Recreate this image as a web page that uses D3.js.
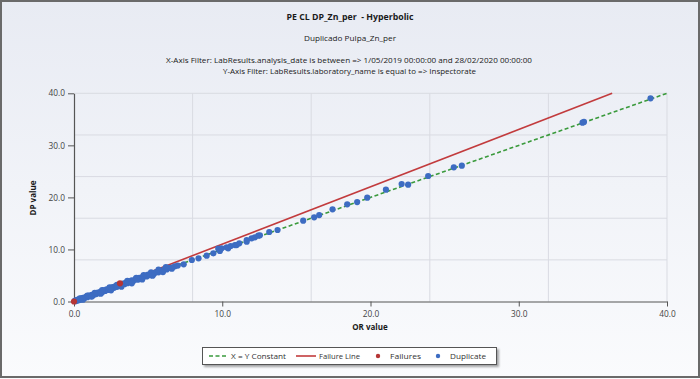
<!DOCTYPE html>
<html><head><meta charset="utf-8">
<script src="https://cdn.jsdelivr.net/npm/d3@7"></script>
<style>
html,body{margin:0;padding:0;background:#fff;}
svg{display:block;font-family:"Open Sans","Noto Sans",sans-serif;}
text{white-space:pre;}
</style></head>
<body>
<script>
// ---- data ----
const title = "PE CL DP_Zn_per  - Hyperbolic";
const subtitle = "Duplicado Pulpa_Zn_per";
const filterX = "X-Axis Filter: LabResults.analysis_date is between => 1/05/2019 00:00:00 and 28/02/2020 00:00:00";
const filterY = "Y-Axis Filter: LabResults.laboratory_name is equal to => Inspectorate";
const xTicks = [0, 10, 20, 30, 40];
const yTicks = [0, 10, 20, 30, 40];
const gridVals = [8, 16, 24, 32, 40];
const constLineX = [0, 40];
const constLineY = [0, 40];
const failLineX = [0, 36.3];
const failLineY = [0, 40];
const dupX = [0.05,0.1,0.15,0.2,0.3,0.35,0.45,0.5,0.6,0.7,0.8,0.9,1.0,1.1,1.2,1.3,1.4,1.5,1.6,1.7,1.8,1.9,2.0,2.1,2.2,2.3,2.4,2.5,2.6,2.7,2.8,2.9,3.0,3.15,3.3,3.4,3.5,3.6,3.7,3.8,3.9,4.0,4.15,4.3,4.4,4.5,4.65,4.8,4.9,5.0,5.15,5.3,5.4,5.55,5.7,5.8,5.95,6.1,6.25,6.4,6.6,6.8,7.0,7.4,7.95,8.4,8.95,9.4,9.73,9.84,9.96,10.3,10.4,10.57,10.86,10.97,11.15,11.65,11.65,11.98,12.2,12.43,12.54,13.17,13.73,15.46,16.2,16.54,17.44,18.43,19.1,19.78,21.04,22.1,22.54,23.89,25.62,26.16,34.3,34.4,38.89,
  0.4,0.9,1.4,1.9,2.4,2.9,3.6,4.2,4.7,5.2,5.7,6.2,0.6,1.2,1.8,2.5,3.2,3.9,4.6,5.3,6.0,6.6];
const dupY = [0.12,0.05,0.25,0.15,0.4,0.28,0.55,0.42,0.7,0.62,0.9,0.82,1.12,1.02,1.3,1.22,1.5,1.42,1.7,1.62,1.92,1.78,2.12,2.02,2.35,2.22,2.55,2.45,2.75,2.62,2.95,2.82,3.18,3.1,3.45,3.32,3.65,3.52,3.85,3.72,4.05,3.92,4.32,4.2,4.55,4.42,4.8,4.98,4.82,5.18,5.05,5.45,5.32,5.65,5.6,5.92,5.85,6.2,6.15,6.45,6.5,6.75,6.9,7.15,7.97,8.3,8.8,9.26,10.14,9.7,10.22,10.41,10.22,10.66,10.85,10.85,11.18,11.8,11.49,12.14,12.33,12.64,12.72,13.35,13.74,15.53,16.17,16.6,17.7,18.67,19.1,19.94,21.48,22.57,22.44,24.11,25.78,26.09,34.35,34.5,39.04,
  0.62,1.15,1.68,2.2,2.72,3.22,3.95,4.55,5.08,5.6,6.12,6.6,0.35,0.95,1.5,2.15,2.85,3.5,4.25,4.95,5.65,6.3];
const failX = [0.0, 3.1];
const failY = [0.0, 3.5];
const legendLabels = ["X = Y Constant", "Failure Line", "Failures", "Duplicate"];

const W = 700, H = 379;
const green = "#3a9a3c", red = "#c23b3d", blue = "#3d6cc2", redDot = "#b53535";

const svg = d3.select("body").append("svg").attr("width", W).attr("height", H);
const defs = svg.append("defs");
const grad = defs.append("linearGradient").attr("id","bg").attr("x1",0).attr("y1",0).attr("x2",0).attr("y2",1);
grad.append("stop").attr("offset","0%").attr("stop-color","#e8ebf3");
grad.append("stop").attr("offset","100%").attr("stop-color","#fafbfd");
const sh = defs.append("filter").attr("id","shadow").attr("x","-10%").attr("y","-30%").attr("width","130%").attr("height","180%");
sh.append("feDropShadow").attr("dx",2).attr("dy",2).attr("stdDeviation",1).attr("flood-color","#000").attr("flood-opacity",0.35);

svg.append("rect").attr("x",0).attr("y",0).attr("width",W).attr("height",H).attr("fill","url(#bg)");
svg.append("rect").attr("x",1).attr("y",1).attr("width",W-2).attr("height",H-3)
  .attr("fill","none").attr("stroke","#6a6a6a").attr("stroke-width",2);

// titles
const tcol = "#1a1a1a";
svg.append("text").attr("x",350).attr("y",20).attr("text-anchor","middle")
  .attr("font-size",8.5).attr("font-weight","bold").attr("fill",tcol)
  .attr("textLength",127).attr("lengthAdjust","spacingAndGlyphs").text(title);
svg.append("text").attr("x",350).attr("y",41).attr("text-anchor","middle")
  .attr("font-size",8).attr("fill",tcol)
  .attr("textLength",92).attr("lengthAdjust","spacingAndGlyphs").text(subtitle);
svg.append("text").attr("x",349).attr("y",63).attr("text-anchor","middle")
  .attr("font-size",8).attr("fill",tcol)
  .attr("textLength",366).attr("lengthAdjust","spacingAndGlyphs").text(filterX);
svg.append("text").attr("x",349.5).attr("y",74).attr("text-anchor","middle")
  .attr("font-size",8).attr("fill",tcol)
  .attr("textLength",253).attr("lengthAdjust","spacingAndGlyphs").text(filterY);

// scales
const x = d3.scaleLinear().domain([0,40]).range([74,667]);
const y = d3.scaleLinear().domain([0,40]).range([301.5,93.3]);

// grid
const g = svg.append("g");
g.selectAll(".vg").data(gridVals).join("line")
  .attr("x1",d=>x(d)).attr("x2",d=>x(d)).attr("y1",y(40)).attr("y2",y(0))
  .attr("stroke","#d9dbe2").attr("stroke-width",1);
g.selectAll(".hg").data(gridVals).join("line")
  .attr("x1",x(0)).attr("x2",x(40)).attr("y1",d=>y(d)).attr("y2",d=>y(d))
  .attr("stroke","#d9dbe2").attr("stroke-width",1);

// axes
const fmt = d3.format(".1f");
const xAxis = svg.append("g").attr("transform",`translate(0,${y(0)})`)
  .call(d3.axisBottom(x).tickValues(xTicks).tickFormat(fmt).tickSize(5).tickSizeOuter(0));
const yAxis = svg.append("g").attr("transform",`translate(${x(0)},0)`)
  .call(d3.axisLeft(y).tickValues(yTicks).tickFormat(fmt).tickSize(6).tickSizeOuter(0));
[xAxis,yAxis].forEach(a=>{
  a.select(".domain").attr("stroke","#555").attr("stroke-width",1.2);
  a.selectAll(".tick line").attr("stroke","#555");
  a.selectAll(".tick text").attr("fill","#444").attr("font-size",8.3)
   .attr("font-family","'Open Sans','Noto Sans',sans-serif");
});
xAxis.selectAll(".tick text").attr("dy","0.9em");

svg.append("text").attr("x",370).attr("y",330).attr("text-anchor","middle")
  .attr("font-size",8).attr("font-weight","bold").attr("fill",tcol).text("OR value");
svg.append("text").attr("transform","translate(36,198) rotate(-90)").attr("text-anchor","middle")
  .attr("font-size",8).attr("font-weight","bold").attr("fill",tcol).text("DP value");

// lines
const line = d3.line().x(d=>x(d[0])).y(d=>y(d[1]));
svg.append("path").datum(d3.zip(failLineX, failLineY)).attr("d",line)
  .attr("fill","none").attr("stroke",red).attr("stroke-width",1.6);
svg.append("path").datum(d3.zip(constLineX, constLineY)).attr("d",line)
  .attr("fill","none").attr("stroke",green).attr("stroke-width",1.6).attr("stroke-dasharray","4,2.5");

// points
svg.append("g").selectAll("circle").data(d3.zip(dupX,dupY)).join("circle")
  .attr("cx",d=>x(d[0])).attr("cy",d=>y(d[1])).attr("r",3.1).attr("fill",blue);
svg.append("g").selectAll("circle").data(d3.zip(failX,failY)).join("circle")
  .attr("cx",d=>x(d[0])).attr("cy",d=>y(d[1])).attr("r",3.1).attr("fill",redDot);

// legend
const lg = svg.append("g");
lg.append("rect").attr("x",202.5).attr("y",347.5).attr("width",294).attr("height",17)
  .attr("fill","#fff").attr("stroke","#555").attr("stroke-width",1).attr("filter","url(#shadow)");
const ly = 356;
lg.append("line").attr("x1",209).attr("x2",228).attr("y1",ly).attr("y2",ly)
  .attr("stroke",green).attr("stroke-width",1.6).attr("stroke-dasharray","4,2.5");
lg.append("line").attr("x1",296).attr("x2",316).attr("y1",ly).attr("y2",ly)
  .attr("stroke",red).attr("stroke-width",1.6);
lg.append("circle").attr("cx",378).attr("cy",ly).attr("r",2.2).attr("fill",redDot);
lg.append("circle").attr("cx",438).attr("cy",ly).attr("r",2.2).attr("fill",blue);
const lx = [231, 319, 390, 450];
const lw = [55, 41, 31, 36];
lg.selectAll(".lt").data(legendLabels).join("text")
  .attr("x",(d,i)=>lx[i]).attr("y",ly+3).attr("font-size",8).attr("fill","#333")
  .attr("textLength",(d,i)=>lw[i]).attr("lengthAdjust","spacingAndGlyphs").text(d=>d);
</script>
</body></html>
